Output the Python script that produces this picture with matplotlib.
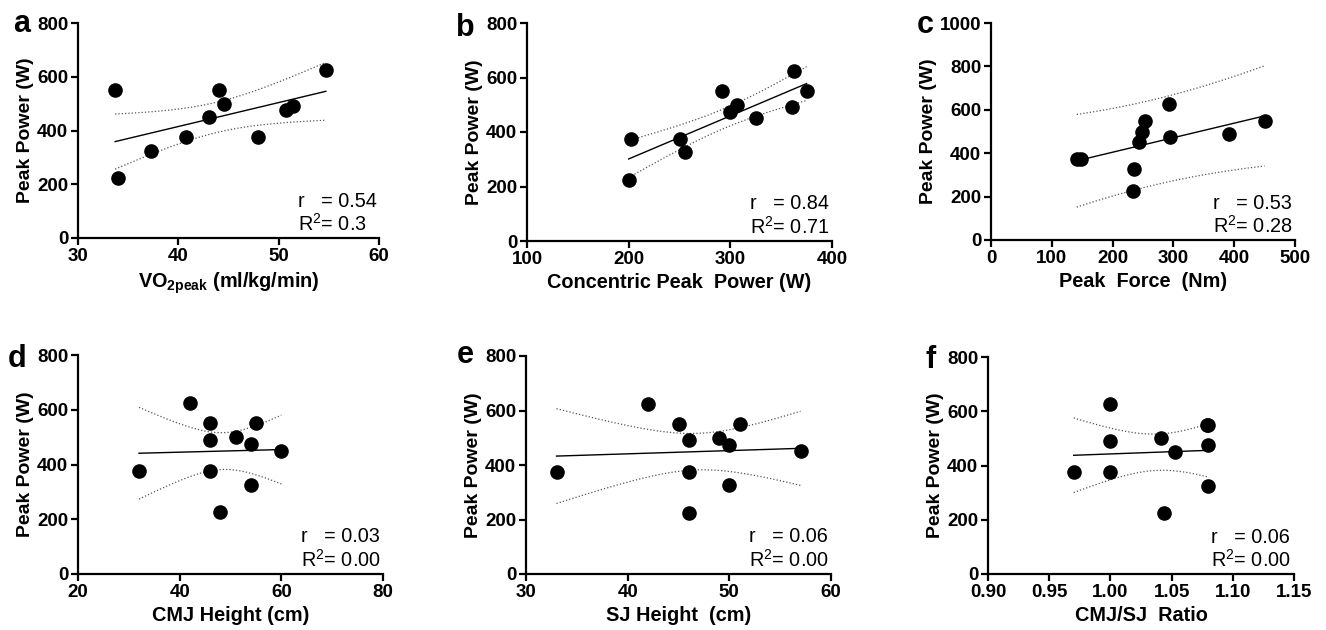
import numpy as np
import matplotlib
matplotlib.use("Agg")
import matplotlib.pyplot as plt

plt.rcParams['font.family'] = ['Liberation Sans', 'DejaVu Sans']
plt.rcParams['mathtext.fontset'] = 'custom'
plt.rcParams['mathtext.rm'] = 'Liberation Sans'
plt.rcParams['mathtext.it'] = 'Liberation Sans:italic'
plt.rcParams['mathtext.bf'] = 'Liberation Sans:bold'

#### DATA ####

# peak power (W) for each subject
power_a = [550, 225, 325, 375, 450, 550, 500, 375, 475, 490, 625]
vo2peak = [33.7, 34.0, 37.3, 40.8, 43.1, 44.1, 44.6, 47.9, 50.7, 51.4, 54.7]

power_b = [225, 375, 375, 325, 550, 475, 500, 450, 490, 625, 550]
conc_power = [200, 202, 250, 255, 292, 300, 307, 325, 361, 363, 375]

power_c = [375, 375, 225, 325, 450, 500, 550, 625, 475, 490, 550]
peak_force = [141, 148, 234, 235, 244, 248, 254, 292, 295, 391, 450]

power_d = [375, 625, 550, 490, 375, 225, 500, 475, 325, 550, 450]
cmj_height = [32, 42, 46, 46, 46, 48, 51, 54, 54, 55, 60]

power_e = [375, 625, 550, 490, 375, 225, 500, 475, 325, 550, 450]
sj_height = [33, 42, 45, 46, 46, 46, 49, 50, 50, 51, 57]

# two subjects overlap at (1.08, 550)
power_f = [375, 625, 490, 375, 500, 225, 450, 550, 550, 475, 325]
cmj_sj_ratio = [0.97, 1.00, 1.00, 1.00, 1.041, 1.044, 1.053, 1.079, 1.08, 1.08, 1.08]

letters = ['a', 'b', 'c', 'd', 'e', 'f']
x_labels = [r'VO$_{\mathbf{2peak}}$ (ml/kg/min)', 'Concentric Peak  Power (W)',
            'Peak  Force  (Nm)', 'CMJ Height (cm)', 'SJ Height  (cm)',
            'CMJ/SJ  Ratio']
r_texts = ['0.54', '0.84', '0.53', '0.03', '0.06', '0.06']
r2_texts = ['0.3', '0.71', '0.28', '0.00', '0.00', '0.00']

xs = [vo2peak, conc_power, peak_force, cmj_height, sj_height, cmj_sj_ratio]
ys = [power_a, power_b, power_c, power_d, power_e, power_f]

x_ticks = [[30, 40, 50, 60], [100, 200, 300, 400], [0, 100, 200, 300, 400, 500],
           [20, 40, 60, 80], [30, 40, 50, 60], [0.90, 0.95, 1.00, 1.05, 1.10, 1.15]]
y_ticks = [[0, 200, 400, 600, 800]] * 2 + [[0, 200, 400, 600, 800, 1000]] + [[0, 200, 400, 600, 800]] * 3

# which band each panel shows
band_kind = ['conf', 'conf', 'pred', 'conf', 'conf', 'conf']

#### LAYOUT (pixels: left, right, top, bottom) ####
W, H = 1326, 630
boxes = [(78, 379, 23, 238), (527, 832, 23, 241), (991, 1295, 23, 240),
         (78, 383, 355, 574), (526, 831, 356, 574), (988, 1294, 357, 574)]
letter_pos = [(13, 32), (456, 36), (917, 33), (8, 367), (457, 363), (926, 368)]

# two-sided 90% t value, df = 9
T_VAL = 1.833


def fit_bands(x, y, kind):
    x = np.asarray(x, float)
    y = np.asarray(y, float)
    n = len(x)
    slope, icpt = np.polyfit(x, y, 1)
    resid = y - (slope * x + icpt)
    s = np.sqrt(np.sum(resid ** 2) / (n - 2))
    sxx = np.sum((x - x.mean()) ** 2)
    xx = np.linspace(x.min(), x.max(), 100)
    yy = slope * xx + icpt
    extra = 1.0 if kind == 'pred' else 0.0
    half = T_VAL * s * np.sqrt(extra + 1 / n + (xx - x.mean()) ** 2 / sxx)
    return xx, yy, yy - half, yy + half


fig = plt.figure(figsize=(W / 100, H / 100), dpi=100)

for i in range(6):
    l, r, t, b = boxes[i]
    ax = fig.add_axes([l / W, 1 - b / H, (r - l) / W, (b - t) / H])

    xx, yy, lo, hi = fit_bands(xs[i], ys[i], band_kind[i])
    ax.plot(xx, lo, ls=':', color='#555555', lw=0.9)
    ax.plot(xx, hi, ls=':', color='#555555', lw=0.9)
    ax.plot(xx, yy, color='black', lw=1.0)
    ax.scatter(xs[i], ys[i], s=90, color='black', zorder=3, clip_on=False)

    ax.set_xlim(x_ticks[i][0], x_ticks[i][-1])
    ax.set_ylim(y_ticks[i][0], y_ticks[i][-1])
    ax.set_xticks(x_ticks[i])
    ax.set_yticks(y_ticks[i])
    if i == 5:
        ax.set_xticklabels(['%.2f' % v for v in x_ticks[i]])

    for side in ['top', 'right']:
        ax.spines[side].set_visible(False)
    for side in ['left', 'bottom']:
        ax.spines[side].set_linewidth(1.6)
    ax.tick_params(width=1.6, length=5, labelsize=13.5, pad=2)
    for lab in ax.get_xticklabels() + ax.get_yticklabels():
        lab.set_fontweight('bold')

    ax.set_xlabel(x_labels[i], fontsize=14.3, fontweight='bold', labelpad=4)
    ax.set_ylabel('Peak Power (W)', fontsize=14, fontweight='bold', labelpad=2)

    ax.text(0.73, 0.145, 'r   = ' + r_texts[i], transform=ax.transAxes,
            fontsize=14.3, ha='left', va='baseline')
    ax.text(0.73, 0.035, r'R$^2$= ' + r2_texts[i], transform=ax.transAxes,
            fontsize=14.3, ha='left', va='baseline')

    lx, ly = letter_pos[i]
    fig.text(lx / W, 1 - ly / H, letters[i], fontsize=22, fontweight='bold',
             ha='left', va='baseline')

fig.savefig('out.png', dpi=100)
